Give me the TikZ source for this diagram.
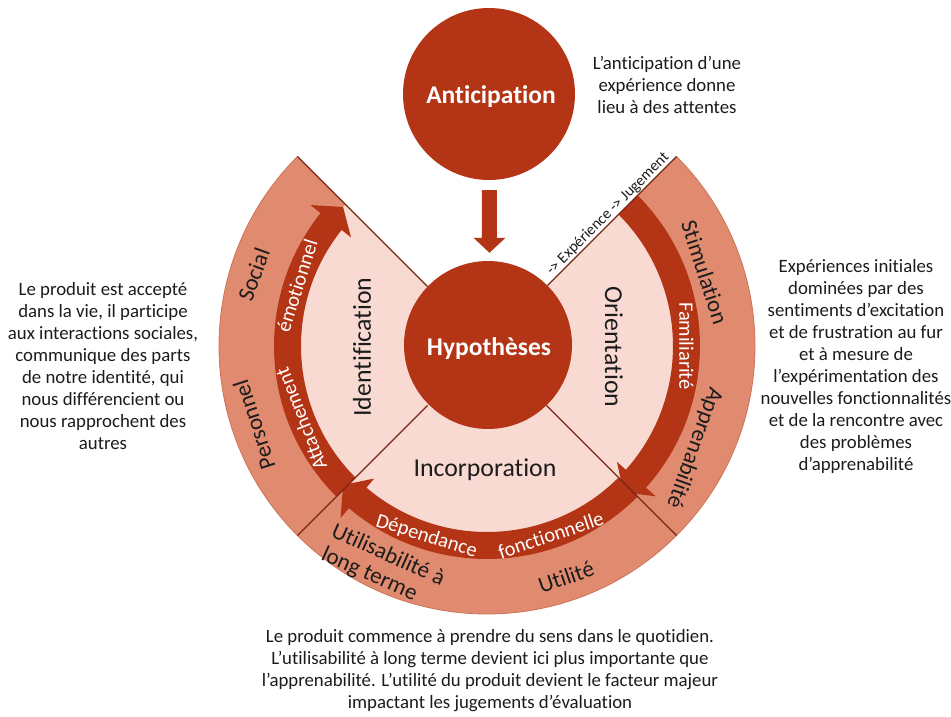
\documentclass[tikz,border=0pt]{standalone}
\usepackage{fontspec}
\setmainfont{Carlito}[Ligatures={NoCommon}]
\usetikzlibrary{calc}
\definecolor{dred}{RGB}{180,52,22}
\definecolor{ringc}{RGB}{224,139,111}
\definecolor{ringedge}{RGB}{205,115,88}
\definecolor{pinkc}{RGB}{249,218,211}
\definecolor{linec}{RGB}{118,38,18}
\definecolor{txtc}{RGB}{28,28,28}
\tikzset{
  bodytxt/.style={font=\fontsize{18.8}{22}\selectfont, align=center, text=txtc, inner sep=0pt},
  ringtxt/.style={font=\fontsize{23}{25}\selectfont, text=txtc, inner sep=0pt},
  bandtxt/.style={font=\fontsize{20.5}{22}\selectfont, text=white, inner sep=0pt},
  intxt/.style={font=\fontsize{25.8}{28}\selectfont, text=txtc, inner sep=0pt},
  exptxt/.style={font=\fontsize{15.5}{17}\selectfont, text=txtc, inner sep=1pt},
  bigcirc/.style={circle, fill=dred, inner sep=0pt},
  bigtxt/.style={text=white, inner sep=0pt, font=\bfseries\fontsize{25.5}{28}\selectfont},
  divline/.style={draw=linec, line width=1.4pt}
}
\begin{document}
\begin{tikzpicture}[x=1pt,y=1pt]
\useasboundingbox[fill=white] (-487,-370) rectangle (464,346);
% outer ring sector
\fill[ringc] (0,0) -- (45:268) arc[start angle=45,end angle=-225,radius=268] -- cycle;
\draw[ringedge, line width=0.8pt] (45:268) arc[start angle=45,end angle=-225,radius=268];
% inner pink sector
\fill[pinkc] (0,0) -- (45:200) arc[start angle=45,end angle=-225,radius=200] -- cycle;
% bottom arrow (Dependance fonctionnelle)
\fill[dred] (-45:186) arc[start angle=-45,end angle=-130.4,radius=186] -- (-130.4:174) -- (-136:200) -- (-130.4:226) -- (-130.4:213) arc[start angle=-130.4,end angle=-45,radius=213] -- cycle;
% left arrow (Attachement emotionnel)
\fill[dred] (225:186) arc[start angle=225,end angle=141.4,radius=186] -- (141.4:174) -- (136:200) -- (141.4:226) -- (141.4:213) arc[start angle=141.4,end angle=225,radius=213] -- cycle;
% right arrow (Familiarite)
\fill[dred] (45:186) arc[start angle=45,end angle=-41.7,radius=186] -- (-41.7:174) -- (-47:200) -- (-41.7:226) -- (-41.7:213) arc[start angle=-41.7,end angle=45,radius=213] -- cycle;
% dividing lines
\draw[divline] (45:84) -- (45:268);
\draw[divline] (135:84) -- (135:268);
\draw[divline] (-45:84) -- (-45:268);
\draw[divline] (-135:84) -- (-135:268);
% circles
\node[bigcirc, minimum size=172pt] (antic) at (2,252) {};
\node[bigtxt] (anticT) at (4,249) {Anticipation};
\node[bigcirc, minimum size=168pt] (hyp) at (1,1) {};
\node[bigtxt] (hypT) at (2,-3) {Hypothèses};
% down arrow
\coordinate (aS) at ($(antic.south)+(0.5,-10)$);
\coordinate (aT) at ($(hyp.north)+(1.5,8)$);
\fill[dred] ($(aS)+(-7.5,0)$) -- ($(aS)+(7.5,0)$) -- ($(aT)+(7.5,15)$) -- ($(aT)+(16,15)$) -- (aT) -- ($(aT)+(-16,15)$) -- ($(aT)+(-7.5,15)$) -- cycle;
% label along top-right line
\node[exptxt, rotate=45, anchor=south] (exp) at (45:179) {-> Expérience -> Jugement};
% inner labels
\node[intxt, rotate=90] (ident) at (-125,-1) {Identification};
\node[intxt, rotate=-90] (orient) at (127,-1) {Orientation};
\node[intxt] (incorp) at (-2,-124) {Incorporation};
% band labels
\node[bandtxt, rotate=72.4] (emo) at (162.4:199.5) {émotionnel};
\node[bandtxt, rotate=111.5] (att) at (201.5:200) {Attachement};
\node[bandtxt, rotate=-90] (fam) at (0:199.5) {Familiarité};
\node[bandtxt, rotate=-17.6] (dep) at (-107.6:200) {Dépendance};
\node[bandtxt, rotate=18.7] (fonc) at (-71.3:199.5) {fonctionnelle};
% ring labels
\node[ringtxt, rotate=70] (soc) at (163:244) {Social};
\node[ringtxt, rotate=108] (pers) at (198.7:246) {Personnel};
\node[ringtxt, rotate=-72] (stim) at (18.7:230) {Stimulation};
\node[ringtxt, rotate=-110] (appr) at (-26.2:231) {Apprenabilité};
\node[ringtxt, rotate=-24, align=left] (util) at (-104,-221) {Utilisabilité à\\long terme};
\node[ringtxt, rotate=19] (utile) at (79,-231) {Utilité};
% side texts
\node[bodytxt] (tAnt) at (180,261) {L’anticipation d’une\\expérience donne\\lieu à des attentes};
\node[bodytxt] (tLeft) at (-384,-20) {Le produit est accepté\\dans la vie, il participe\\aux interactions sociales,\\communique des parts\\de notre identité, qui\\nous différencient ou\\nous rapprochent des\\autres};
\node[bodytxt] (tRight) at (369,-20) {Expériences initiales\\dominées par des\\sentiments d’excitation\\et de frustration au fur\\et à mesure de\\l’expérimentation des\\nouvelles fonctionnalités\\et de la rencontre avec\\des problèmes\\d’apprenabilité};
\node[bodytxt] (tBot) at (3,-324.5) {Le produit commence à prendre du sens dans le quotidien.\\L’utilisabilité à long terme devient ici plus importante que\\l’apprenabilité. L’utilité du produit devient le facteur majeur\\impactant les jugements d’évaluation};
\end{tikzpicture}
\end{document}
